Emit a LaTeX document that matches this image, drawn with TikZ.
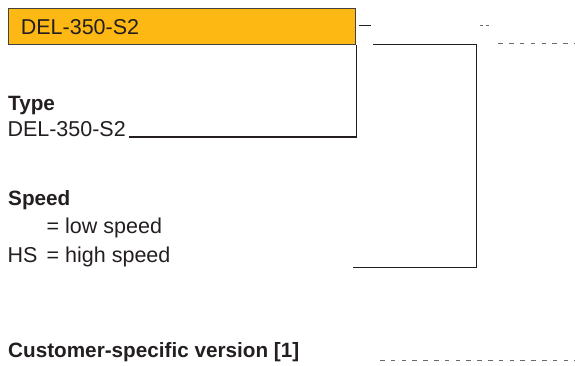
\documentclass[tikz,border=0pt]{standalone}
\usepackage{fontspec}
\setmainfont{Liberation Sans}
\definecolor{ink}{HTML}{231F20}
\definecolor{amber}{HTML}{FDB813}
\definecolor{dashgray}{HTML}{6A6A6A}
\tikzset{
  codebox/.style={draw=ink!85, line width=1.1pt, fill=amber, text=ink,
    anchor=north west, minimum height=36pt, text width=323pt,
    inner xsep=12pt, inner ysep=0pt, align=left, font=\fontsize{21.5}{24}\selectfont},
  txt/.style={anchor=base west, inner sep=0pt, text=ink, font=\fontsize{21.5}{24}\selectfont},
  head/.style={txt, font=\fontsize{20.7}{24}\selectfont\bfseries},
  link/.style={draw=ink, line width=1.1pt},
  gap/.style={draw=dashgray, line width=1.1pt, dash pattern=on 4.5pt off 6.3pt},
  tick/.style={draw=dashgray, line width=1.1pt, dash pattern=on 3pt off 3pt}
}
\begin{document}
\begin{tikzpicture}[x=1pt,y=-1pt]
  \useasboundingbox (0,0) rectangle (575,366);

  % type code
  \node[codebox] (code) at (8.3,8.3) {DEL-350-S2};

  % legend texts
  \node[head] (typehead) at (8,111) {Type};
  \node[txt] (typeval) at (7.3,137) {DEL-350-S2};
  \node[head] (speedhead) at (8,205) {Speed};
  \node[txt] (lowval) at (46.5,233.5) {= low speed};
  \node[txt] (hs) at (7.3,262.5) {HS};
  \node[txt] (highval) at (46.5,262.5) {= high speed};
  \node[head] (custhead) at (8,357.7) {Customer-specific version [1]};

  % free ends of the position marks
  \coordinate (typeend) at (129,137);
  \coordinate (speedtop) at (373,44.3);
  \coordinate (speedcorner) at (476.7,44.3);
  \coordinate (speedbot) at (476.7,267.3);
  \coordinate (speedend) at (353.3,267.3);
  \coordinate (dashA) at (359.3,25.3);
  \coordinate (dashB) at (371,25.3);
  \coordinate (dotA) at (480,25.3);
  \coordinate (dotB) at (489.5,25.3);
  \coordinate (topgapA) at (498.3,43.3);
  \coordinate (topgapB) at (575,43.3);
  \coordinate (custgapA) at (380,360.5);
  \coordinate (custgapB) at (575,360.5);

  % type connector
  \draw[link] (code.south east) -- (code.south east |- typeend) -- (typeend);
  % speed connector
  \draw[link] (speedtop) -- (speedcorner) -- (speedbot) -- (speedend);
  % code positions
  \draw[link] (dashA) -- (dashB);
  \draw[tick] (dotA) -- (dotB);
  \draw[gap] (topgapA) -- (topgapB);
  \draw[gap] (custgapA) -- (custgapB);
\end{tikzpicture}
\end{document}
